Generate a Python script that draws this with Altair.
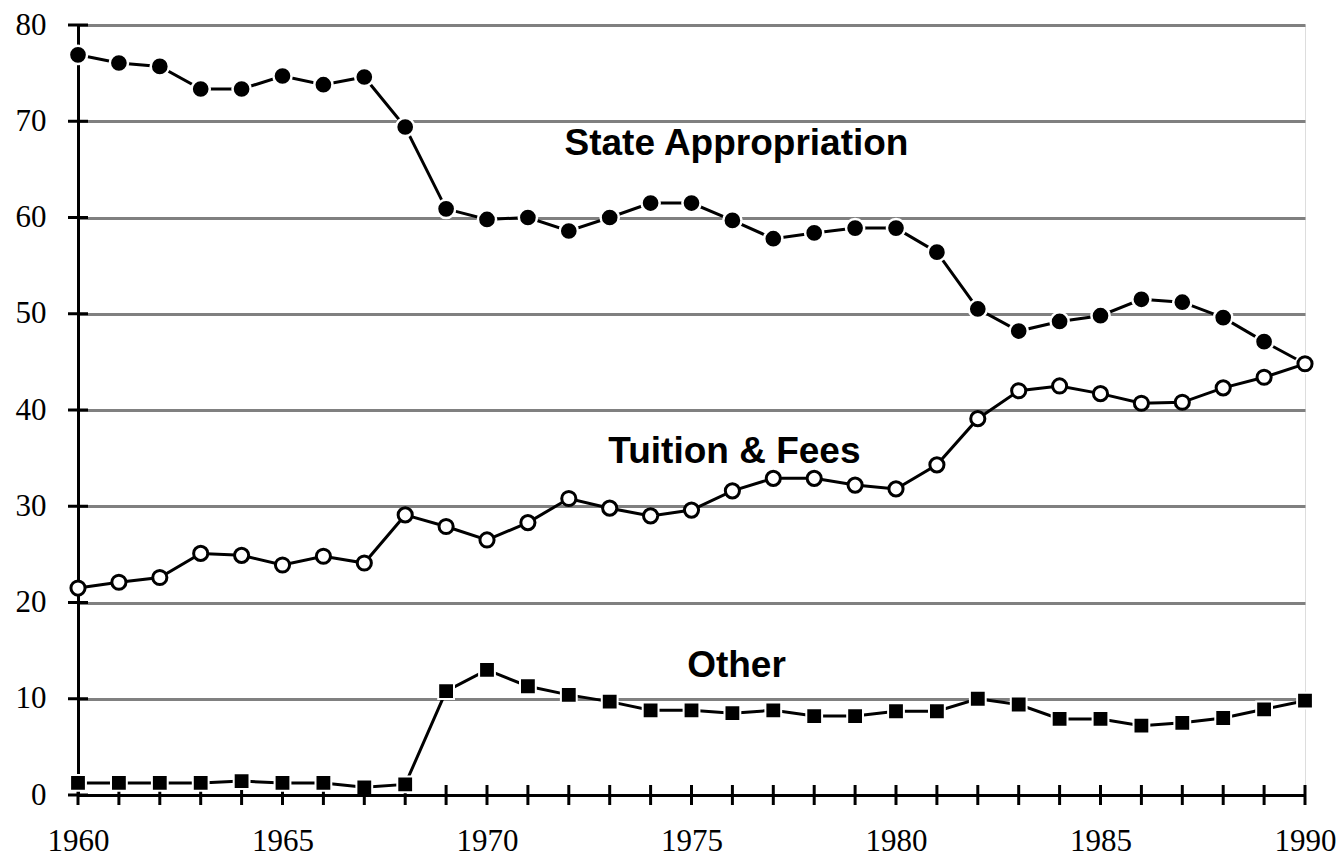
import altair as alt
import pandas as pd

years = list(range(1960, 1991))

state_appropriation = [76.9, 76.05, 75.7, 73.35, 73.35, 74.7, 73.8, 74.6, 69.4, 60.9,
                       59.8, 60.0, 58.6, 60.0, 61.5, 61.5, 59.7, 57.8, 58.4, 58.9,
                       58.9, 56.4, 50.5, 48.2, 49.2, 49.8, 51.5, 51.2, 49.6, 47.1, 44.8]

tuition_fees = [21.5, 22.1, 22.6, 25.1, 24.9, 23.9, 24.8, 24.1, 29.1, 27.9,
                26.5, 28.3, 30.8, 29.8, 29.0, 29.6, 31.6, 32.9, 32.9, 32.2,
                31.8, 34.3, 39.1, 42.0, 42.5, 41.7, 40.7, 40.8, 42.3, 43.4, 44.8]

other = [1.25, 1.25, 1.25, 1.25, 1.45, 1.25, 1.25, 0.8, 1.1, 10.8,
         13.0, 11.3, 10.4, 9.7, 8.8, 8.8, 8.5, 8.8, 8.2, 8.2,
         8.7, 8.7, 10.0, 9.4, 7.9, 7.9, 7.2, 7.5, 8.0, 8.9, 9.8]

label_texts = ["State Appropriation", "Tuition & Fees", "Other"]
label_years = [1976.1, 1976.05, 1976.1]
label_values = [67.6, 35.6, 13.4]

y_ticks = [0, 10, 20, 30, 40, 50, 60, 70, 80]
x_label_ticks = [1960, 1965, 1970, 1975, 1980, 1985, 1990]

sa = pd.DataFrame({"year": years, "value": state_appropriation})
tf = pd.DataFrame({"year": years, "value": tuition_fees})
ot = pd.DataFrame({"year": years, "value": other})
labels = pd.DataFrame({"text": label_texts, "year": label_years, "value": label_values})
xt = pd.DataFrame({"year": years, "value": [0] * len(years)})
yt = pd.DataFrame({"year": [1960] * len(y_ticks), "value": y_ticks})

xscale = alt.Scale(domain=[1960, 1990], nice=False, zero=False)
yscale = alt.Scale(domain=[0, 80], nice=False)

X = alt.X("year:Q", scale=xscale, axis=alt.Axis(
    values=x_label_ticks, format="d", grid=False, ticks=False,
    domain=True, domainColor="black", domainWidth=3,
    labelFont="Liberation Serif", labelFontSize=31, labelColor="black",
    labelPadding=31, title=None, labelFlush=False, zindex=1))
Y = alt.Y("value:Q", scale=yscale, axis=alt.Axis(
    values=y_ticks, grid=True, gridColor="#808080", gridWidth=3, gridOpacity=1,
    ticks=False, domain=True, domainColor="black", domainWidth=3,
    labelFont="Liberation Serif", labelFontSize=31, labelColor="black",
    labelPadding=32, title=None, labelFlush=False, zindex=0))

base_x = alt.X("year:Q", scale=xscale)
base_y = alt.Y("value:Q", scale=yscale)

axes = alt.Chart(sa).mark_point(opacity=0).encode(x=X, y=Y)

def series(df, shape, fill, size):
    line = alt.Chart(df).mark_line(color="black", strokeWidth=3).encode(x=base_x, y=base_y)
    if shape == "square":
        pts = alt.Chart(df).mark_square(size=size, color="black", opacity=1,
                                        stroke="white", strokeWidth=2).encode(x=base_x, y=base_y)
    else:
        if fill == "black":
            pts = alt.Chart(df).mark_point(shape="circle", size=size, filled=True, fill="black",
                                           fillOpacity=1, stroke="white", strokeWidth=2.5,
                                           opacity=1).encode(x=base_x, y=base_y)
        else:
            pts = alt.Chart(df).mark_point(shape="circle", size=size, filled=False, fill="white",
                                           fillOpacity=1, stroke="black", strokeWidth=3,
                                           opacity=1).encode(x=base_x, y=base_y)
    return line + pts

x_ticks_layer = alt.Chart(xt).mark_rule(color="black", strokeWidth=3, yOffset=-10,
                                        y2Offset=10).encode(
    x=base_x, y=base_y, y2="value:Q")
y_ticks_layer = alt.Chart(yt).mark_rule(color="black", strokeWidth=3, xOffset=-10,
                                        x2Offset=10).encode(
    x=base_x, x2="year:Q", y=base_y)

text_layer = alt.Chart(labels).mark_text(font="Liberation Sans", fontWeight="bold",
                                         fontSize=37, color="black", align="center",
                                         baseline="middle").encode(
    x=base_x, y=base_y, text="text:N")

chart = alt.layer(
    axes,
    x_ticks_layer,
    y_ticks_layer,
    series(sa, "circle", "black", 330),
    series(tf, "circle", "white", 200),
    series(ot, "square", "black", 250),
    text_layer,
).properties(
    width=1227, height=770,
    autosize=alt.AutoSizeParams(type="none"),
    padding={"left": 70, "top": 17, "right": 31, "bottom": 63},
).configure_view(stroke=None).configure(background="white")

chart.save("out.html", embed_options={"renderer": "svg", "actions": False})
